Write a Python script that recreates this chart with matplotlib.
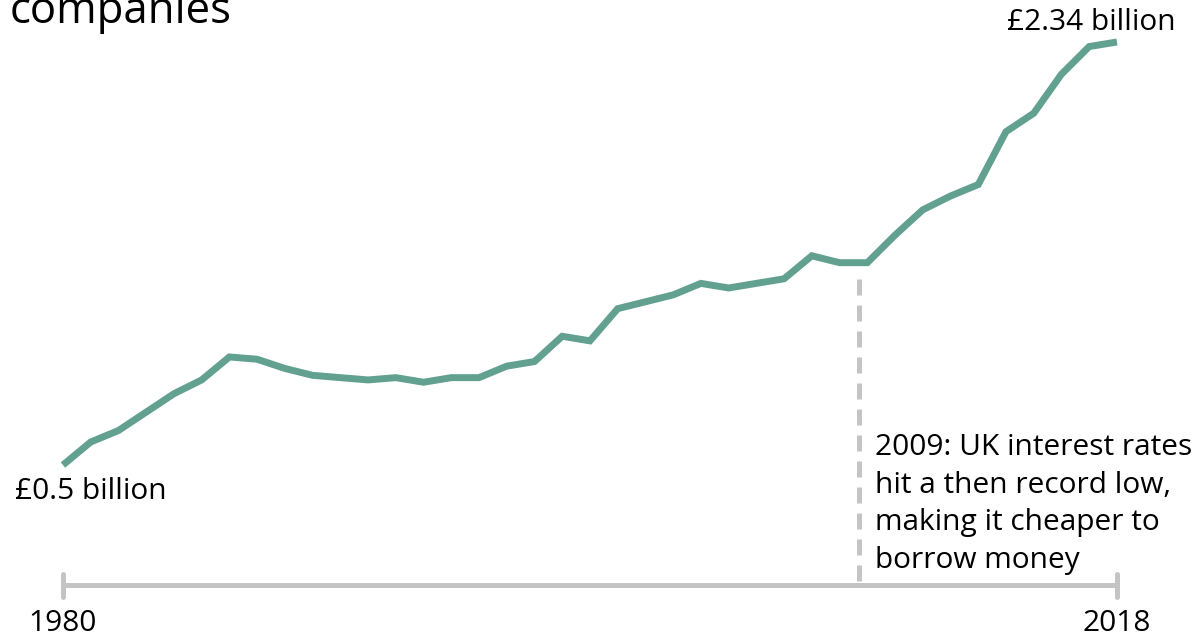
import matplotlib.pyplot as plt

plt.rcParams['font.family'] = ['Open Sans', 'DejaVu Sans']

# Annual values, £ billion
years = list(range(1980, 2019))
values = [0.50, 0.60, 0.65, 0.73, 0.81, 0.87, 0.97, 0.96, 0.92, 0.89,
          0.88, 0.87, 0.88, 0.86, 0.88, 0.88, 0.93, 0.95, 1.06, 1.04,
          1.18, 1.21, 1.24, 1.29, 1.27, 1.29, 1.31, 1.41, 1.38, 1.38,
          1.50, 1.61, 1.67, 1.72, 1.95, 2.03, 2.20, 2.32, 2.34]

start_label = "£0.5 billion"
end_label = "£2.34 billion"
note_year = 2008.7
note_text = ("2009: UK interest rates\nhit a then record low,\n"
             "making it cheaper to\nborrow money")

teal = '#62a08f'
grey = '#c4c4c4'
fs = 21.5

fig = plt.figure(figsize=(11.96, 6.41), dpi=100)
ax = fig.add_axes([0, 0, 1, 1])
ax.set_xlim(1977.73, 2020.85)
ax.set_ylim(-0.2655, 2.5226)
ax.axis('off')

# baseline with end ticks
base = -0.022
ax.plot([years[0], years[-1]], [base, base], color=grey, lw=3.6,
        solid_capstyle='butt', zorder=1)
for yr in (years[0], years[-1]):
    ax.plot([yr, yr], [base - 0.05, base + 0.05], color=grey, lw=3.6,
            solid_capstyle='round', zorder=1)
    ax.text(yr, -0.19, str(yr), ha='center', va='center', fontsize=fs)

# dashed marker for 2009
ax.plot([note_year, note_year], [-0.005, 1.35], color=grey, lw=3.6,
        dashes=(3.2, 2.0), zorder=1)
ax.text(note_year + 0.57, 0.64, note_text, ha='left', va='top',
        fontsize=fs, linespacing=1.4)

ax.plot(years, values, color=teal, lw=5, solid_joinstyle='miter',
        solid_capstyle='butt', zorder=2)

ax.text(1978.27, 0.385, start_label, ha='left', va='center', fontsize=fs)
ax.text(2020.1, 2.425, end_label, ha='right', va='center', fontsize=fs)

# title, partly above the top edge
fig.text(0.008, 0.982, "companies", ha='left', va='center', fontsize=31.5)

fig.savefig('out.png', dpi=100)
